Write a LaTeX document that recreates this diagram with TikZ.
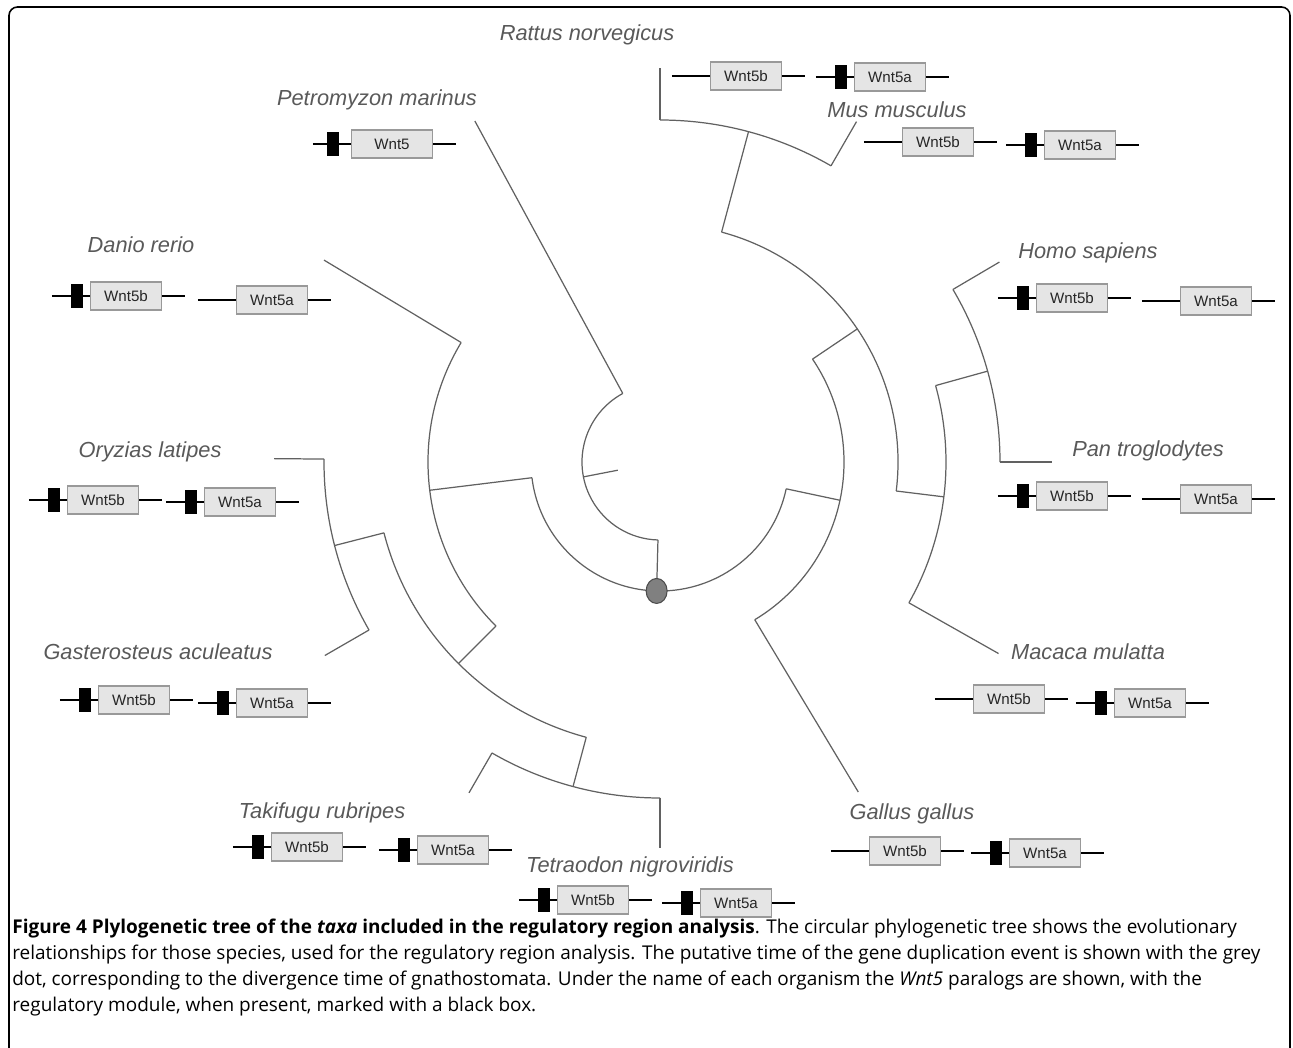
\documentclass[tikz,border=0pt]{standalone}
\usepackage{fontspec}
\setmainfont{Open Sans}
\newfontfamily\arialfont{Liberation Sans}
\usetikzlibrary{calc, shapes.geometric}

\tikzset{
  branch/.style={draw=black!62, line width=0.7pt},
  geneline/.style={draw=black, line width=1.3pt},
  genebox/.style={draw=black!40, fill=black!10, line width=0.6pt, minimum width=1.42cm,
    minimum height=0.56cm, inner sep=0pt, font=\arialfont\fontsize{8.6}{9}\selectfont, text=black!85},
  regmod/.style={fill=black, draw=black, minimum width=0.22cm, minimum height=0.46cm, inner sep=0pt},
  taxon/.style={font=\arialfont\itshape\fontsize{12.4}{14}\selectfont, text=black!65, inner sep=0pt},
  dupdot/.style={ellipse, draw=black!70, fill=black!50, line width=0.6pt, minimum width=0.42cm,
    minimum height=0.5cm, inner sep=0pt},
  capline/.style={anchor=base west, inner sep=0pt, font=\fontsize{10.8}{13}\selectfont},
  frame/.style={draw=black, line width=0.9pt, rounded corners=0.17cm}
}

% one paralog: box with its flanking lines
\newcommand{\gene}[5][]{%
  \node[genebox,#1] (#2) at (#3,#4) {#5};
  \coordinate (#2-in) at ($(#2.west)+(-38,0)$);
  \coordinate (#2-out) at ($(#2.east)+(23,0)$);
  \draw[geneline] (#2-in) -- (#2.west);
  \draw[geneline] (#2.east) -- (#2-out);
}
% regulatory module in front of a box
\newcommand{\regbox}[2][-13]{\node[regmod] (#2-m) at ($(#2.west)+(#1,0)$) {};}
% arc of a clade round the centre
\newcommand{\clade}[4]{%
  \coordinate (#1-s) at ($(C)+(#3:#2)$);
  \coordinate (#1-e) at ($(C)+(#4:#2)$);
  \draw[branch] (#1-s) arc[start angle=#3, end angle=#4, radius=#2*0.2mm];
}
% radial branch
\newcommand{\stem}[4]{%
  \coordinate (#1-in) at ($(C)+(#2:#3)$);
  \coordinate (#1-out) at ($(C)+(#2:#4)$);
  \draw[branch] (#1-in) -- (#1-out);
}

\begin{document}
\begin{tikzpicture}[x=0.2mm, y=0.2mm]
  \useasboundingbox (0,0) rectangle (1293,1047);
  \draw[frame] (9,-10) -- (9,1040) -- (1290,1040) -- (1290,-10);

  \coordinate (C) at (660,585);

  % clades
  \clade{k0}{78}{118.5}{268.5}
  \clade{k1}{129}{187}{348}
  \clade{k2}{232}{149}{225}
  \clade{k3}{285}{194.4}{255}
  \clade{k4}{336}{179.5}{210}
  \clade{k5}{336}{240}{270}
  \clade{k6}{184}{-59}{34}
  \clade{k7}{238}{-7}{75}
  \clade{k8}{342}{60}{90}
  \clade{k9}{286}{-29.5}{15.5}
  \clade{k10}{340}{0}{30.5}

  % inner branches
  \stem{s-root}{268.5}{78}{129}
  \stem{s-stub}{191}{43}{78}
  \stem{s-fish}{187}{129}{232}
  \stem{s-teleo}{225}{232}{285}
  \stem{s-ory}{194.4}{285}{336}
  \stem{s-tetr}{255}{285}{336}
  \stem{s-tetrapod}{348}{129}{184}
  \stem{s-mam}{34}{184}{238}
  \stem{s-rod}{75}{238}{342}
  \stem{s-prim}{-7}{238}{286}
  \stem{s-hom}{15.5}{286}{340}

  % leaves
  \stem{l-petro}{118.5}{78}{388}
  \stem{l-danio}{149}{232}{392}
  \stem{l-oryz}{179.5}{336}{386}
  \stem{l-gast}{210}{336}{387}
  \stem{l-taki}{240}{336}{382}
  \stem{l-tetra}{270}{336}{386}
  \stem{l-gallus}{-59}{184}{385}
  \stem{l-macaca}{-29.5}{286}{389}
  \stem{l-pan}{0}{340}{392}
  \stem{l-homo}{30.5}{340}{394}
  \stem{l-mus}{60}{342}{393}
  \stem{l-rattus}{90}{342}{394}

  % duplication event
  \node[dupdot] (dup) at (s-root-out) {};

  % taxa
  \node[taxon] (lab-rattus) at (587,1012) {Rattus norvegicus};
  \node[taxon] (lab-mus) at (897,937) {Mus musculus};
  \node[taxon] (lab-petro) at (377,947) {Petromyzon marinus};
  \node[taxon] (lab-danio) at (141,802) {Danio rerio};
  \node[taxon] (lab-oryz) at (150,595) {Oryzias latipes};
  \node[taxon] (lab-gast) at (158,395) {Gasterosteus aculeatus};
  \node[taxon] (lab-taki) at (322,234) {Takifugu rubripes};
  \node[taxon] (lab-tetra) at (630,180) {Tetraodon nigroviridis};
  \node[taxon] (lab-gallus) at (912,233) {Gallus gallus};
  \node[taxon] (lab-macaca) at (1088,395) {Macaca mulatta};
  \node[taxon] (lab-homo) at (1088,794) {Homo sapiens};
  \node[taxon] (lab-pan) at (1148,596) {Pan troglodytes};

  % paralogs
  \gene{rattus-b}{746}{971}{Wnt5b}
  \gene{rattus-a}{890}{970}{Wnt5a} \regbox{rattus-a}
  \gene{mus-b}{938}{905}{Wnt5b}
  \gene{mus-a}{1080}{902}{Wnt5a} \regbox{mus-a}
  \gene[minimum width=1.62cm]{petro-w}{392}{903}{Wnt5} \regbox[-18]{petro-w}
  \gene{danio-b}{126}{751}{Wnt5b} \regbox{danio-b}
  \gene{danio-a}{272}{747}{Wnt5a}
  \gene{oryz-b}{103}{547}{Wnt5b} \regbox{oryz-b}
  \gene{oryz-a}{240}{545}{Wnt5a} \regbox{oryz-a}
  \gene{gast-b}{134}{347}{Wnt5b} \regbox{gast-b}
  \gene{gast-a}{272}{344}{Wnt5a} \regbox{gast-a}
  \gene{taki-b}{307}{200}{Wnt5b} \regbox{taki-b}
  \gene{taki-a}{453}{197}{Wnt5a} \regbox{taki-a}
  \gene{tetra-b}{593}{147}{Wnt5b} \regbox{tetra-b}
  \gene{tetra-a}{736}{144}{Wnt5a} \regbox{tetra-a}
  \gene{gallus-b}{905}{196}{Wnt5b}
  \gene{gallus-a}{1045}{194}{Wnt5a} \regbox{gallus-a}
  \gene{macaca-b}{1009}{348}{Wnt5b}
  \gene{macaca-a}{1150}{344}{Wnt5a} \regbox{macaca-a}
  \gene{homo-b}{1072}{749}{Wnt5b} \regbox{homo-b}
  \gene{homo-a}{1216}{746}{Wnt5a}
  \gene{pan-b}{1072}{551}{Wnt5b} \regbox{pan-b}
  \gene{pan-a}{1216}{548}{Wnt5a}

  % caption
  \node[capline] (cap1) at (12,114) {\textbf{Figure 4 Plylogenetic tree of the \textit{taxa} included in the regulatory region analysis}. The circular phylogenetic tree shows the evolutionary};
  \node[capline] (cap2) at (12,88) {relationships for those species, used for the regulatory region analysis. The putative time of the gene duplication event is shown with the grey};
  \node[capline] (cap3) at (12,62) {dot, corresponding to the divergence time of gnathostomata. Under the name of each organism the \textit{Wnt5} paralogs are shown, with the};
  \node[capline] (cap4) at (12,36) {regulatory module, when present, marked with a black box.};
\end{tikzpicture}
\end{document}
